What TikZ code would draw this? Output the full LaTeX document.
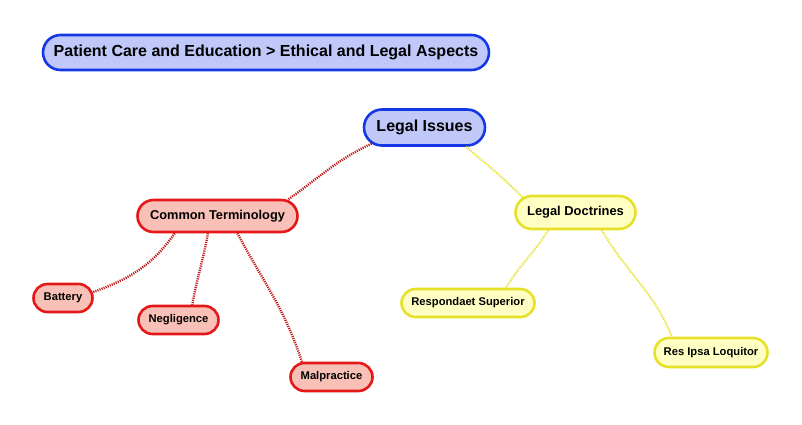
\documentclass[tikz,border=0pt]{standalone}
\usepackage{fontspec}
\setmainfont{Liberation Sans}
\usetikzlibrary{shapes.misc}

\definecolor{blueline}{HTML}{1438E6}
\definecolor{bluefill}{HTML}{BFC8F8}
\definecolor{redline}{HTML}{E41818}
\definecolor{redfill}{HTML}{F8C0B6}
\definecolor{yelline}{HTML}{E6E028}
\definecolor{yelfill}{HTML}{FFFFC4}

\begin{document}
\begin{tikzpicture}[x=1pt,y=-1pt,
    topic/.style={rounded rectangle,draw,line width=2.6pt,inner sep=0pt},
    bluebox/.style={topic,draw=blueline,fill=bluefill},
    redbox/.style={topic,draw=redline,fill=redfill},
    yelbox/.style={topic,draw=yelline,fill=yelfill},
    redlink/.style={draw=redline!85!black,line width=2.4pt,dash pattern=on 1.1pt off 1.1pt},
    yellink/.style={draw=yelline,line width=2pt,dash pattern=on 1.1pt off 1.1pt}]
    \useasboundingbox (0,0) rectangle (802,425);
    % heading
    \node [bluebox,minimum width=446pt,minimum height=35pt,font=\bfseries\fontsize{16}{18}\selectfont] (title) at (266,52.5) {Patient Care and Education > Ethical and Legal Aspects};
    % main topic
    \node [bluebox,minimum width=121pt,minimum height=36pt,font=\bfseries\fontsize{16}{18}\selectfont] (issues) at (424.5,127.5) {Legal Issues};
    % left branch
    \begin{scope}[font=\bfseries\fontsize{11.2}{13}\selectfont]
      \node [redbox,minimum width=160pt,minimum height=32pt,font=\bfseries\fontsize{12.8}{15}\selectfont] (terms) at (217.5,216) {Common Terminology};
      \node [redbox,minimum width=59pt,minimum height=28pt] (battery) at (63,298) {Battery};
      \node [redbox,minimum width=80pt,minimum height=28pt] (negligence) at (178.5,320) {Negligence};
      \node [redbox,minimum width=82pt,minimum height=28pt] (malpractice) at (331.5,377) {Malpractice};
    \end{scope}
    % right branch
    \begin{scope}[font=\bfseries\fontsize{11.2}{13}\selectfont]
      \node [yelbox,minimum width=120pt,minimum height=33pt,font=\bfseries\fontsize{12.9}{15}\selectfont] (doctrines) at (575.5,212.5) {Legal Doctrines};
      \node [yelbox,minimum width=133pt,minimum height=28pt] (respondeat) at (468,303) {Respondaet Superior};
      \node [yelbox,minimum width=113pt,minimum height=29pt] (ipsa) at (711,352.5) {Res Ipsa Loquitor};
    \end{scope}
    % links
    \draw [redlink] (issues.197) to [out=205,in=35] (terms.13);
    \draw [redlink] (terms.-158) to [out=235,in=20] (battery.11);
    \draw [redlink] (terms.-119) to [out=-100,in=80] (negligence.48);
    \draw [redlink] (terms.-41) to [out=-62,in=108] (malpractice.153);
    \draw [yellink] (issues.-25) to [out=-40,in=135] (doctrines.164);
    \draw [yellink] (doctrines.-147) to [out=-122,in=58] (respondeat.22);
    \draw [yellink] (doctrines.-34) to [out=-60,in=112] (ipsa.158);
\end{tikzpicture}
\end{document}
